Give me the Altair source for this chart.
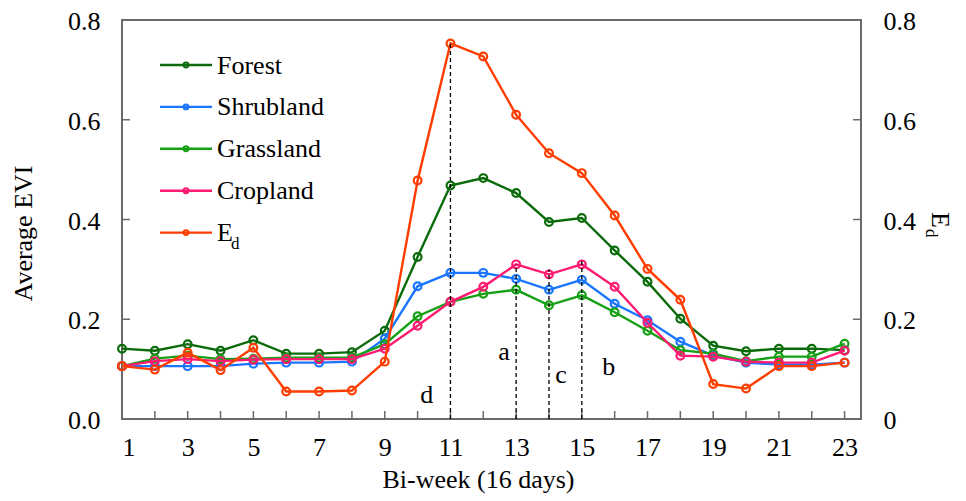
import altair as alt
import pandas as pd

# ---------------- data ----------------
weeks = list(range(1, 24))
forest = [0.141, 0.137, 0.150, 0.137, 0.158, 0.131, 0.131, 0.134, 0.177, 0.325, 0.468, 0.483,
          0.453, 0.395, 0.403, 0.338, 0.275, 0.201, 0.147, 0.136, 0.141, 0.141, 0.138]
shrubland = [0.106, 0.106, 0.106, 0.106, 0.111, 0.113, 0.113, 0.115, 0.161, 0.266, 0.293, 0.293,
             0.281, 0.259, 0.279, 0.231, 0.198, 0.155, 0.127, 0.113, 0.109, 0.109, 0.113]
grassland = [0.106, 0.121, 0.127, 0.120, 0.121, 0.123, 0.123, 0.123, 0.150, 0.206, 0.235, 0.251,
             0.259, 0.228, 0.248, 0.214, 0.177, 0.138, 0.131, 0.116, 0.125, 0.125, 0.151]
cropland = [0.106, 0.116, 0.120, 0.116, 0.119, 0.120, 0.120, 0.120, 0.141, 0.187, 0.235, 0.265,
            0.310, 0.290, 0.310, 0.265, 0.193, 0.127, 0.125, 0.115, 0.113, 0.113, 0.137]
ed = [0.106, 0.099, 0.133, 0.098, 0.143, 0.055, 0.055, 0.057, 0.115, 0.478, 0.753, 0.727,
      0.610, 0.533, 0.493, 0.408, 0.301, 0.239, 0.070, 0.061, 0.106, 0.106, 0.113]

series_names = ["Forest", "Shrubland", "Grassland", "Cropland", "Ed"]
series_values = [forest, shrubland, grassland, cropland, ed]
legend_main = ["Forest", "Shrubland", "Grassland", "Cropland", "E"]
colors = ["#0b6b0b", "#1a76ff", "#15a015", "#ff1a72", "#ff3d00"]

drop_x = [11, 13, 14, 15]
drop_top = [0.753, 0.310, 0.300, 0.320]

ann_text = ["d", "a", "c", "b"]
ann_x = [10.28, 12.63, 14.37, 15.82]
ann_y = [0.032, 0.118, 0.072, 0.088]

x_label_values = [1, 3, 5, 7, 9, 11, 13, 15, 17, 19, 21, 23]
x_tick_values = list(range(2, 24))
y_values = [0.0, 0.2, 0.4, 0.6, 0.8]
y_inner_ticks = [0.2, 0.4, 0.6]

# ---------------- layout ----------------
W, H = 739, 399
FONT = "Liberation Serif"
FS = 26
FRAME = "#6a6a6a"

xscale = alt.Scale(domain=[1, 23.5], nice=False, zero=False)


def yscale():
    return alt.Scale(domain=[0, 0.8], nice=False, zero=False)


left_axis = alt.Axis(
    values=y_values, format=".1f", domain=False, ticks=False, grid=False,
    labelPadding=22, labelFontSize=FS, labelFont=FONT, labelColor="black",
    labelOffset=1.5,
    title="Average EVI", titleFont=FONT, titleFontSize=FS, titleFontWeight="normal",
    titleColor="black", titleAngle=270, titleX=-91, titleY=213,
    titleAlign="center", titleBaseline="alphabetic",
)
right_axis = alt.Axis(
    orient="right", values=y_values,
    labelExpr="datum.value == 0 ? '0' : format(datum.value, '.1f')",
    domain=False, ticks=False, grid=False, labelPadding=22, labelOffset=1.5,
    labelFontSize=FS, labelFont=FONT, labelColor="black", title="",
)
x_axis = alt.Axis(
    values=x_label_values, format="d", domain=False, ticks=False, grid=False,
    labelPadding=15, labelFontSize=FS, labelFont=FONT, labelColor="black",
    title="Bi-week (16 days)", titleFont=FONT, titleFontSize=FS,
    titleFontWeight="normal", titleColor="black", titleX=356, titleY=68,
    titleAlign="center", titleBaseline="alphabetic",
)

layers = []

# inward ticks
bt = pd.DataFrame({"t": x_tick_values})
layers.append(
    alt.Chart(bt).mark_rule(color=FRAME, strokeWidth=1.5).encode(
        x=alt.X("t:Q", scale=xscale, axis=x_axis),
        y=alt.value(H), y2=alt.value(H - 8),
    )
)
lt = pd.DataFrame({"t": y_inner_ticks})
layers.append(
    alt.Chart(lt).mark_rule(color=FRAME, strokeWidth=1.5).encode(
        y=alt.Y("t:Q", scale=yscale(), axis=left_axis),
        x=alt.value(0), x2=alt.value(8),
    )
)
layers.append(
    alt.Chart(lt).mark_rule(color=FRAME, strokeWidth=1.5).encode(
        y=alt.Y("t:Q", scale=yscale(), axis=right_axis),
        x=alt.value(W), x2=alt.value(W - 8),
    )
)

# series
for name, vals, col in zip(series_names, series_values, colors):
    df = pd.DataFrame({"week": weeks, "v": vals})
    layers.append(
        alt.Chart(df).mark_line(color=col, strokeWidth=2.4).encode(
            x=alt.X("week:Q", scale=xscale),
            y=alt.Y("v:Q", scale=yscale(), axis=None),
        )
    )
    layers.append(
        alt.Chart(df).mark_point(color=col, filled=False, size=60, strokeWidth=2.2, opacity=1).encode(
            x=alt.X("week:Q", scale=xscale),
            y=alt.Y("v:Q", scale=yscale(), axis=None),
        )
    )

# dashed drop lines
dd = pd.DataFrame({"x": drop_x, "top": drop_top, "base": [0.0] * len(drop_x)})
layers.append(
    alt.Chart(dd).mark_rule(color="black", strokeWidth=1.3, strokeDash=[4, 3]).encode(
        x=alt.X("x:Q", scale=xscale),
        y=alt.Y("base:Q", scale=yscale(), axis=None),
        y2="top:Q",
    )
)

# annotation letters
an = pd.DataFrame({"t": ann_text, "x": ann_x, "y": ann_y})
layers.append(
    alt.Chart(an).mark_text(font=FONT, fontSize=FS, align="center", baseline="alphabetic", color="black").encode(
        x=alt.X("x:Q", scale=xscale),
        y=alt.Y("y:Q", scale=yscale(), axis=None),
        text="t:N",
    )
)

# manual legend
n = len(series_names)
leg = pd.DataFrame({
    "name": series_names,
    "label": legend_main,
    "ly": [45 + i * 41.9 for i in range(n)],
})
leg["ty"] = leg["ly"] + 8.5
leg["x1"] = 38
leg["x2"] = 90
leg["xc"] = 64
leg["xt"] = 95
cscale = alt.Scale(domain=series_names, range=colors)
layers.append(
    alt.Chart(leg).mark_rule(strokeWidth=2.4).encode(
        x=alt.X("x1:Q", scale=None), x2="x2:Q",
        y=alt.Y("ly:Q", scale=None),
        color=alt.Color("name:N", scale=cscale, legend=None),
    )
)
layers.append(
    alt.Chart(leg).mark_point(filled=False, size=24, strokeWidth=2, opacity=1).encode(
        x=alt.X("xc:Q", scale=None),
        y=alt.Y("ly:Q", scale=None),
        color=alt.Color("name:N", scale=cscale, legend=None),
    )
)
layers.append(
    alt.Chart(leg).mark_text(font=FONT, fontSize=FS, align="left", baseline="alphabetic", color="black").encode(
        x=alt.X("xt:Q", scale=None),
        y=alt.Y("ty:Q", scale=None),
        text="label:N",
    )
)
sub = pd.DataFrame({"t": ["d"], "x": [109], "y": [leg["ty"].iloc[-1] + 7.5]})
layers.append(
    alt.Chart(sub).mark_text(font=FONT, fontSize=17, align="left", baseline="alphabetic", color="black").encode(
        x=alt.X("x:Q", scale=None), y=alt.Y("y:Q", scale=None), text="t:N",
    )
)

# right axis title E_d (rotated)
rt = pd.DataFrame({"t": ["E"]})
layers.append(
    alt.Chart(rt).mark_text(font=FONT, fontSize=FS, angle=90, align="left", baseline="alphabetic", color="black").encode(
        x=alt.value(810), y=alt.value(192), text="t:N",
    )
)
rs = pd.DataFrame({"t": ["d"]})
layers.append(
    alt.Chart(rs).mark_text(font=FONT, fontSize=17, angle=90, align="left", baseline="alphabetic", color="black").encode(
        x=alt.value(804), y=alt.value(209), text="t:N",
    )
)

chart = (
    alt.layer(*layers)
    .resolve_scale(y="independent")
    .properties(
        width=W, height=H,
        autosize=alt.AutoSizeParams(type="none"),
        padding={"left": 114, "top": 12, "right": 95, "bottom": 80},
        background="white",
    )
    .configure_view(stroke=FRAME, strokeWidth=2)
)

chart.save("out.html", embed_options={"renderer": "svg", "actions": False})
